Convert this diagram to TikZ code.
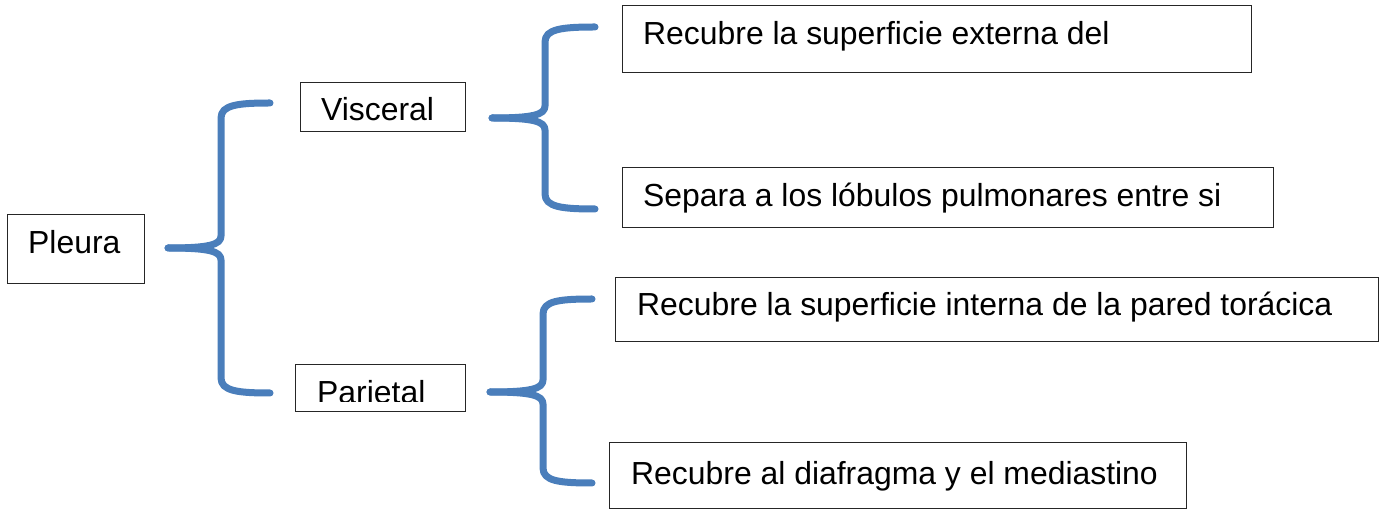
\documentclass[tikz,border=0pt]{standalone}
\usepackage{fontspec}
\setmainfont{Liberation Sans}
\definecolor{braceblue}{RGB}{74,126,187}
\begin{document}
\begin{tikzpicture}[x=1pt,y=-1pt,
  box/.style={draw=black!85,line width=1.2pt,rectangle,anchor=north west,inner sep=0pt},
  txt/.style={anchor=base west,inner sep=0pt,font=\fontsize{31.9}{36}\selectfont},
  brace/.style={draw=braceblue,line width=7pt,line cap=round,line join=round}]
\useasboundingbox (0,0) rectangle (1385,510);
% boxes
\node[box,minimum width=137pt,minimum height=69pt] (pleura) at (7,214) {};
\node[box,minimum width=165pt,minimum height=49pt] (visc) at (300,82) {};
\node[box,minimum width=170pt,minimum height=47pt] (pari) at (295,364) {};
\node[box,minimum width=629pt,minimum height=67pt] (ext) at (622,5) {};
\node[box,minimum width=651pt,minimum height=60pt] (sep) at (622,167) {};
\node[box,minimum width=763pt,minimum height=64pt] (int) at (615,277) {};
\node[box,minimum width=577pt,minimum height=66pt] (dia) at (609,442) {};
% texts
\node[txt] (tpleura) at (28,254) {Pleura};
\node[txt] (tvisc) at (321,121) {Visceral};
\begin{scope}
\clip (295,364) rectangle (465,402);
\node[txt] (tpari) at (317,404) {Parietal};
\end{scope}
\node[txt] (text) at (643,45) {Recubre la superficie externa del};
\node[txt] (tsep) at (643,207) {Separa a los lóbulos pulmonares entre si};
\node[txt] (tint) at (637,316) {Recubre la superficie interna de la pared torácica};
\node[txt] (tdia) at (631,485) {Recubre al diafragma y el mediastino};
% brace coordinates
\coordinate (b1t) at (168,248);
\coordinate (b1u) at (270,103);
\coordinate (b1d) at (270,393);
\coordinate (b2t) at (492,118);
\coordinate (b2u) at (595,27);
\coordinate (b2d) at (595,209);
\coordinate (b3t) at (490,392);
\coordinate (b3u) at (592,299);
\coordinate (b3d) at (592,483);
% braces
\draw[brace] (b1u) .. controls (238,103) and (221,105) .. (221,118) -- (221,236) .. controls (221,245) and (208,248) .. (b1t);
\draw[brace] (b1d) .. controls (238,393) and (221,391) .. (221,378) -- (221,260) .. controls (221,251) and (208,248) .. (b1t);
\draw[brace] (b2u) .. controls (562,27) and (545,29) .. (545,42) -- (545,106) .. controls (545,115) and (532,118) .. (b2t);
\draw[brace] (b2d) .. controls (562,209) and (545,207) .. (545,194) -- (545,130) .. controls (545,121) and (532,118) .. (b2t);
\draw[brace] (b3u) .. controls (559,299) and (543,301) .. (543,314) -- (543,380) .. controls (543,389) and (530,392) .. (b3t);
\draw[brace] (b3d) .. controls (559,483) and (543,481) .. (543,468) -- (543,404) .. controls (543,395) and (530,392) .. (b3t);
\end{tikzpicture}
\end{document}
